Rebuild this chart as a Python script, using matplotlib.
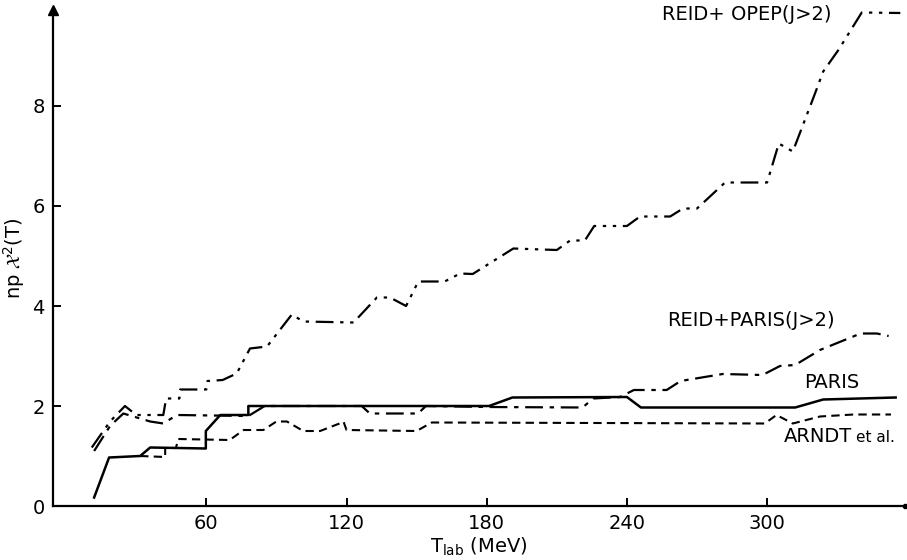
import numpy as np
import matplotlib
matplotlib.use("Agg")
import matplotlib.pyplot as plt

# chi^2 per datum vs T_lab
# REID + OPEP (J>2)
opep_x = [11, 16.7, 18.8, 25.2, 30, 41.6, 42.8, 48.5, 48.8, 60, 60.5, 67, 73, 78.7, 86,
          96.6, 101.5, 123, 133, 138.6, 145.5, 150.7, 162, 168.6, 174, 191.4, 210, 215.7,
          222, 226, 240, 245.6, 258.5, 264, 270, 282, 300, 305, 311, 320, 324, 330.5,
          340.5, 357]
opep_y = [1.17, 1.55, 1.69, 2.0, 1.82, 1.82, 2.15, 2.15, 2.33, 2.33, 2.5, 2.52, 2.65, 3.15,
          3.19, 3.83, 3.69, 3.67, 4.17, 4.17, 4.0, 4.49, 4.49, 4.65, 4.64, 5.15, 5.12, 5.31,
          5.31, 5.6, 5.6, 5.79, 5.79, 5.95, 5.95, 6.47, 6.47, 7.25, 7.09, 8.19, 8.69, 9.12,
          9.87, 9.86]

# REID + PARIS (J>2)
rp_x = [12, 18.8, 24.5, 31.7, 36, 41.6, 47.4, 78, 85, 126.5, 130, 150.6, 154, 180, 221,
        225.6, 237, 243, 257, 263, 281, 298, 305.5, 312, 322.6, 340, 347, 352]
rp_y = [1.1, 1.6, 1.85, 1.75, 1.69, 1.65, 1.82, 1.8, 2.0, 2.0, 1.85, 1.85, 2.0, 1.98, 1.97,
        2.15, 2.18, 2.32, 2.32, 2.5, 2.64, 2.62, 2.8, 2.82, 3.12, 3.45, 3.45, 3.4]

# PARIS
paris_x = [12, 18.4, 31.7, 36, 59.8, 59.8, 66, 78, 78, 181, 191, 240, 246, 312, 324, 355]
paris_y = [0.17, 0.97, 1.0, 1.17, 1.15, 1.5, 1.82, 1.82, 2.0, 2.0, 2.17, 2.18, 1.97, 1.97,
           2.13, 2.17]

# ARNDT et al.
arndt_x = [31.7, 42.4, 42.4, 47, 48, 70, 76, 84.4, 90, 94.5, 101.5, 108.7, 117, 118.7, 120,
           150, 156.5, 299, 304, 311, 322.6, 337, 353]
arndt_y = [1.0, 0.98, 1.16, 1.16, 1.34, 1.32, 1.52, 1.52, 1.69, 1.69, 1.5, 1.5, 1.65, 1.69,
           1.52, 1.5, 1.67, 1.65, 1.82, 1.65, 1.79, 1.83, 1.83]

xticks = [60, 120, 180, 240, 300]
yticks = [0, 2, 4, 6, 8]

fig = plt.figure(figsize=(9.07, 5.6), dpi=100)
ax = fig.add_axes([53 / 907, 54 / 560, 852 / 907, 496 / 560])

ax.plot(opep_x, opep_y, color='black', lw=1.6, ls=(0, (8, 3, 1.5, 3, 1.5, 3)))
ax.plot(rp_x, rp_y, color='black', lw=1.6, ls=(0, (8, 3, 2, 3)))
ax.plot(paris_x, paris_y, color='black', lw=1.8, ls='-')
ax.plot(arndt_x, arndt_y, color='black', lw=1.5, ls=(0, (4, 2.5)))

ax.set_xlim(-5.6, 359)
ax.set_ylim(0, 9.92)

for s in ['top', 'right']:
    ax.spines[s].set_visible(False)
for s in ['left', 'bottom']:
    ax.spines[s].set_linewidth(1.6)

# arrow on y axis, dot at end of x axis
ax.plot([-5.6], [9.92], marker='^', color='black', ms=7, clip_on=False)
ax.plot([359], [0], marker='o', color='black', ms=3, clip_on=False)

ax.set_xticks(xticks)
ax.set_yticks(yticks)
ax.tick_params(direction='in', length=6, width=1.4, labelsize=14, pad=6)

ax.set_xlabel(r'T$_{\mathrm{lab}}$ (MeV)', fontsize=14, labelpad=2)
ax.set_ylabel(r'np $\mathcal{X}^2$(T)', fontsize=14, labelpad=4)

ax.text(291.4, 9.82, 'REID+ OPEP(J>2)', fontsize=14, ha='center', va='center')
ax.text(293, 3.72, 'REID+PARIS(J>2)', fontsize=14, ha='center', va='center')
ax.text(327.8, 2.46, 'PARIS', fontsize=14, ha='center', va='center')
ax.text(336.3, 1.38, 'ARNDT', fontsize=14, ha='right', va='center')
ax.text(338, 1.38, 'et al.', fontsize=11, ha='left', va='center')

fig.savefig('out.png', dpi=100)
